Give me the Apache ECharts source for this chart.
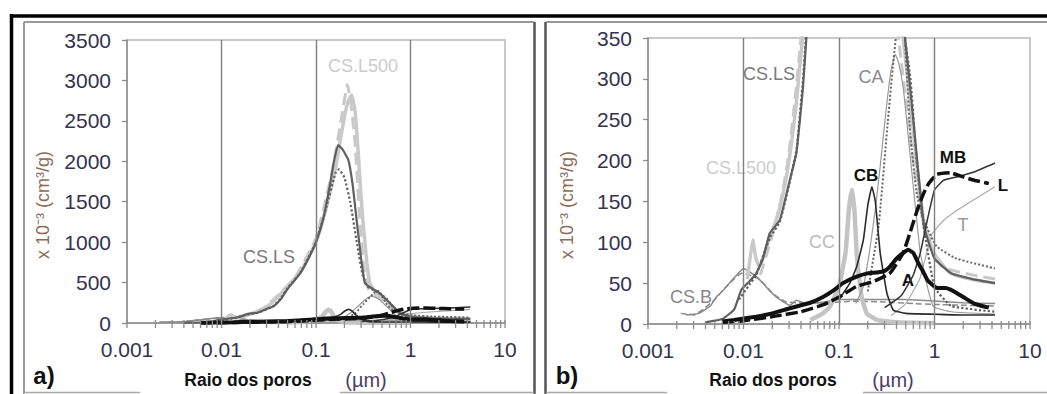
<!DOCTYPE html>
<html><head><meta charset="utf-8">
<script src="https://cdn.jsdelivr.net/npm/echarts@6/dist/echarts.min.js"></script>
<style>html,body{margin:0;padding:0;background:#fff}#c{width:1047px;height:394px}</style>
</head><body><div id="c"></div>
<script>
// ---- axis ticks / labels ----
const xTickLabels = ['0.001', '0.01', '0.1', '1', '10'];
const xDecades = [0.001, 0.01, 0.1, 1];
const xMultipliers = [1, 2, 3, 4, 5, 6, 7, 8, 9];
const xGridValues = [0.01, 0.1, 1];
const yMaxA = 3500, yStepA = 500;
const yMaxB = 350, yStepB = 50;

// ---- series data [pore radius (µm), value x10^-3 cm3/g] ----
const csB = [[0.0025,11],[0.0034,13],[0.0045,22],[0.0052,33],[0.0062,42],[0.0071,50],[0.0085,60],[0.01,68],[0.0115,64],[0.0136,58],[0.016,50],[0.019,40],[0.0221,33],[0.0305,23],[0.0358,29],[0.0456,25],[0.07,27],[0.1,30],[0.2,30],[0.5,30],[1,28],[2,26],[4.3,25]];
const csBDash = [[0.0022,13],[0.003,11],[0.0038,18],[0.005,30],[0.0065,45],[0.008,55],[0.0095,62],[0.0115,60],[0.0145,55],[0.017,47],[0.021,36],[0.028,27],[0.04,26],[0.07,26],[0.15,28],[0.3,27],[0.6,25],[1,24],[2,23],[4.3,22]];
const csLS = [[0.004,2],[0.006,6],[0.008,18],[0.0095,42],[0.0115,52],[0.0136,62],[0.016,80],[0.0188,111],[0.024,127],[0.0305,176],[0.0358,209],[0.042,290],[0.05,420],[0.068,615],[0.085,820],[0.1,1000],[0.12,1300],[0.14,1700],[0.155,2000],[0.171,2200],[0.19,2150],[0.22,2016],[0.245,1700],[0.269,1274],[0.3,800],[0.33,491],[0.4,420],[0.475,367],[0.6,250],[0.775,120],[1.0,80],[1.5,62],[2.5,55],[4.3,50]];
const csLSDot = [[0.009,30],[0.0115,48],[0.0136,60],[0.0188,105],[0.024,125],[0.03,170],[0.036,215],[0.042,300],[0.05,430],[0.07,640],[0.1,1000],[0.13,1450],[0.16,1850],[0.175,1900],[0.2,1800],[0.23,1500],[0.27,1000],[0.31,600],[0.35,450],[0.45,380],[0.56,300],[0.65,200],[0.77,120],[1.0,45],[1.5,22],[4.3,15]];
const csL500 = [[0.011,55],[0.0125,103],[0.0135,80],[0.0147,70],[0.018,100],[0.022,127],[0.026,160],[0.03,200],[0.035,260],[0.04,330],[0.05,450],[0.07,650],[0.1,1000],[0.13,1450],[0.16,1900],[0.18,2250],[0.2,2550],[0.22,2750],[0.239,2820],[0.26,2600],[0.28,2100],[0.3,1550],[0.32,1150],[0.345,750],[0.372,490],[0.42,400],[0.47,350],[0.56,270],[0.66,189],[0.77,127],[0.98,87],[1.47,62],[2.6,54],[4.3,50]];
const csL500Dash = [[0.015,60],[0.018,90],[0.022,127],[0.026,165],[0.03,210],[0.035,280],[0.04,350],[0.06,560],[0.1,1050],[0.15,1900],[0.19,2600],[0.215,2950],[0.235,2700],[0.26,2200],[0.29,1300],[0.32,700],[0.36,420],[0.45,320],[0.6,200],[0.8,110],[1.2,70],[2.5,60],[4.3,55]];
const cc = [[0.05,5],[0.068,13],[0.08,21],[0.1,46],[0.117,87],[0.127,140],[0.136,164],[0.145,140],[0.153,87],[0.163,55],[0.173,33],[0.195,13],[0.25,5],[0.4,2],[1,1]];
const cb = [[0.1,30],[0.13,50],[0.153,70],[0.18,103],[0.2,145],[0.221,168],[0.24,150],[0.27,87],[0.317,38],[0.37,17],[0.5,13],[1,12],[2,11],[4.3,11]];
const caThin = [[0.15,25],[0.18,46],[0.21,91],[0.24,140],[0.27,193],[0.31,260],[0.35,310],[0.388,330],[0.42,320],[0.47,290],[0.51,250],[0.6,168],[0.71,87],[0.84,46],[0.98,21],[1.5,15],[4.3,12]];
const caDot = [[0.2,40],[0.26,120],[0.32,240],[0.37,320],[0.42,380],[0.46,400],[0.5,330],[0.56,230],[0.65,160],[0.77,127],[1.05,95],[1.7,80],[4.3,68]];
const seriesA = [[0.006,3],[0.008,5],[0.0136,9],[0.02,13],[0.03,19],[0.05,26],[0.068,33],[0.09,42],[0.11,50],[0.153,58],[0.2,62],[0.25,63],[0.3,65],[0.34,70],[0.4,80],[0.47,87],[0.53,91],[0.6,87],[0.68,74],[0.76,64],[0.84,54],[0.95,48],[1.06,44],[1.3,44],[1.47,42],[1.7,38],[2.0,33],[2.6,25],[3.7,20]];
const seriesMB = [[0.006,2],[0.01,4],[0.02,9],[0.04,15],[0.07,24],[0.1,33],[0.153,46],[0.23,52],[0.34,62],[0.47,87],[0.58,119],[0.68,144],[0.77,160],[0.87,172],[1.06,183],[1.47,185],[2.0,180],[2.6,176],[3.7,172]];
const seriesL = [[0.3,20],[0.45,35],[0.6,60],[0.71,87],[0.84,127],[1.0,164],[1.25,176],[1.7,180],[2.6,186],[4.3,197]];
const seriesT = [[0.35,10],[0.5,25],[0.7,55],[0.84,90],[0.95,111],[1.25,127],[2.0,144],[4.3,168]];

const styles = [
  {name:'CS.B', data:csB, color:'#8a8a8a', width:1.5, type:'solid'},
  {name:'CS.B dash', data:csBDash, color:'#8a8a8a', width:1.5, type:'dashed'},
  {name:'CS.L500', data:csL500, color:'#c9c9c9', width:3.5, type:'solid'},
  {name:'CS.L500 dash', data:csL500Dash, color:'#c9c9c9', width:3, type:'dashed'},
  {name:'CC', data:cc, color:'#c4c4c4', width:4.5, type:'solid'},
  {name:'T', data:seriesT, color:'#aaaaaa', width:1.2, type:'solid'},
  {name:'CA', data:caThin, color:'#9a9a9a', width:1.2, type:'solid'},
  {name:'CA dot', data:caDot, color:'#666666', width:2, type:'dotted'},
  {name:'CS.LS', data:csLS, color:'#5f5f5f', width:2.2, type:'solid'},
  {name:'CS.LS dot', data:csLSDot, color:'#5f5f5f', width:2.2, type:'dotted'},
  {name:'CB', data:cb, color:'#2a2a2a', width:1.6, type:'solid'},
  {name:'L', data:seriesL, color:'#333333', width:1.5, type:'solid'},
  {name:'A', data:seriesA, color:'#111111', width:4, type:'solid'},
  {name:'MB', data:seriesMB, color:'#111111', width:3.5, type:[12,4]}
];

const tickValues = [];
xDecades.forEach(d => xMultipliers.forEach(m => tickValues.push([+(d*m).toPrecision(3), 0])));
tickValues.push([10, 0]);

const NUM_FONT = 'Liberation Sans, Arial, sans-serif';
const LBL_FONT = '"Liberation Sans Narrow", "Arial Narrow", "Liberation Sans", sans-serif';

function xAxisDef(gi) {
  return {
    type:'log', logBase:10, min:0.001, max:10, gridIndex:gi,
    axisLine:{show:true, lineStyle:{color:'#8c8c8c', width:1.5}},
    axisTick:{show:false}, splitLine:{show:false}, minorTick:{show:false},
    axisLabel:{margin:16, fontSize:21, fontFamily:NUM_FONT, color:'#33334d',
      formatter: v => xTickLabels[Math.round(Math.log10(v)) + 3]}
  };
}
function yAxisDef(gi, max, step) {
  return {
    type:'value', min:0, max:max, interval:step, gridIndex:gi,
    axisLine:{show:true, lineStyle:{color:'#8c8c8c', width:1.5}},
    axisTick:{show:true, inside:false, length:5, lineStyle:{color:'#8c8c8c', width:1.3}},
    splitLine:{show:false},
    axisLabel:{margin:16, fontSize:21, fontFamily:NUM_FONT, color:'#33334d', formatter: v => String(v)}
  };
}

const series = [];
[0,1].forEach(gi => {
  series.push({
    type:'custom', xAxisIndex:gi, yAxisIndex:gi, silent:true, clip:false, z:5,
    data: tickValues,
    renderItem: (params, api) => {
      const p = api.coord([api.value(0), 0]);
      return {type:'line', shape:{x1:p[0], y1:p[1]-3, x2:p[0], y2:p[1]+5},
        style:{stroke:'#8c8c8c', lineWidth:1.3}};
    },
    markLine:{silent:true, symbol:'none', label:{show:false},
      lineStyle:{color:'#7f7f7f', width:1.4, type:'solid'},
      data: xGridValues.map(v => ({xAxis:v}))}
  });
  styles.forEach(s => {
    series.push({
      type:'line', name:s.name, xAxisIndex:gi, yAxisIndex:gi, data:s.data,
      showSymbol:false, symbol:'none', smooth:0.12, clip:true, silent:true,
      lineStyle:{color:s.color, width:s.width, type:s.type}, z:3
    });
  });
});

function txt(t, x, y, font, fill, extra) {
  return Object.assign({type:'text', x:x, y:y, silent:true,
    style:{text:t, font:font, fill:fill, align:'center', verticalAlign:'middle'}}, extra||{});
}
function ln(x1,y1,x2,y2,color,w) {
  return {type:'line', silent:true, shape:{x1,y1,x2,y2}, style:{stroke:color, lineWidth:w}};
}

const graphic = [
  ln(10,16,1047,16,'#000',3.5),
  ln(11.5,14,11.5,394,'#000',3.5),
  ln(24,22,534,22,'#9a9a9a',2),
  ln(546,22,1047,22,'#9a9a9a',2),
  ln(24,22,24,394,'#9a9a9a',2),
  ln(534.5,22,534.5,394,'#555',2.5),
  ln(545.5,22,545.5,394,'#555',2.5),
  ln(24,392.5,140,392.5,'#aaa',1.5),
  ln(340,392.5,534,392.5,'#aaa',1.5),
  ln(546,392.5,667,392.5,'#aaa',1.5),
  ln(863,392.5,1047,392.5,'#aaa',1.5),
  txt('x 10⁻³ (cm³/g)', 43, 205, '18px ' + NUM_FONT, '#8b6d5a', {rotation: Math.PI/2}),
  txt('x 10⁻³ (cm³/g)', 567, 205, '18px ' + NUM_FONT, '#8b6d5a', {rotation: Math.PI/2}),
  txt('a)', 44, 375, 'bold 24px ' + NUM_FONT, '#111'),
  txt('b)', 567, 375, 'bold 24px ' + NUM_FONT, '#111'),
  txt('Raio dos poros', 248, 380, 'bold 17.5px ' + NUM_FONT, '#111'),
  txt('(µm)', 366, 380, '20px ' + NUM_FONT, '#4d3d66'),
  txt('Raio dos poros', 773, 380, 'bold 17.5px ' + NUM_FONT, '#111'),
  txt('(µm)', 893, 380, '20px ' + NUM_FONT, '#4d3d66'),
  // panel a annotations
  txt('CS.L500', 363, 66, '18px ' + LBL_FONT, '#cccccc'),
  txt('CS.LS', 269, 257, '18px ' + LBL_FONT, '#7a7a7a'),
  // panel b annotations
  txt('CS.LS', 769, 74, '18px ' + LBL_FONT, '#7a7a7a'),
  txt('CA', 871, 77, '18px ' + LBL_FONT, '#8a8a8a'),
  txt('CS.L500', 741, 168, '18px ' + LBL_FONT, '#cccccc'),
  txt('CB', 866, 175, 'bold 17px ' + NUM_FONT, '#111'),
  txt('MB', 953, 157, 'bold 17px ' + NUM_FONT, '#111'),
  txt('L', 1003, 185, 'bold 17px ' + NUM_FONT, '#111'),
  txt('T', 963, 225, '18px ' + LBL_FONT, '#9a9a9a'),
  txt('CC', 822, 242, '18px ' + LBL_FONT, '#bbbbbb'),
  txt('A', 908, 280, 'bold 17px ' + NUM_FONT, '#111'),
  txt('CS.B', 691, 297, '18px ' + LBL_FONT, '#888888')
];

const chart = echarts.init(document.getElementById('c'), null, {renderer:'svg'});
chart.setOption({
  animation:false,
  backgroundColor:'#ffffff',
  grid:[
    {left:127, top:40, width:378, height:283, show:true, borderColor:'#b8b8b8', borderWidth:1.5, backgroundColor:'transparent'},
    {left:648, top:38, width:382, height:286, show:true, borderColor:'#b8b8b8', borderWidth:1.5, backgroundColor:'transparent'}
  ],
  xAxis:[xAxisDef(0), xAxisDef(1)],
  yAxis:[yAxisDef(0, yMaxA, yStepA), yAxisDef(1, yMaxB, yStepB)],
  series: series,
  graphic: graphic
});
</script></body></html>
